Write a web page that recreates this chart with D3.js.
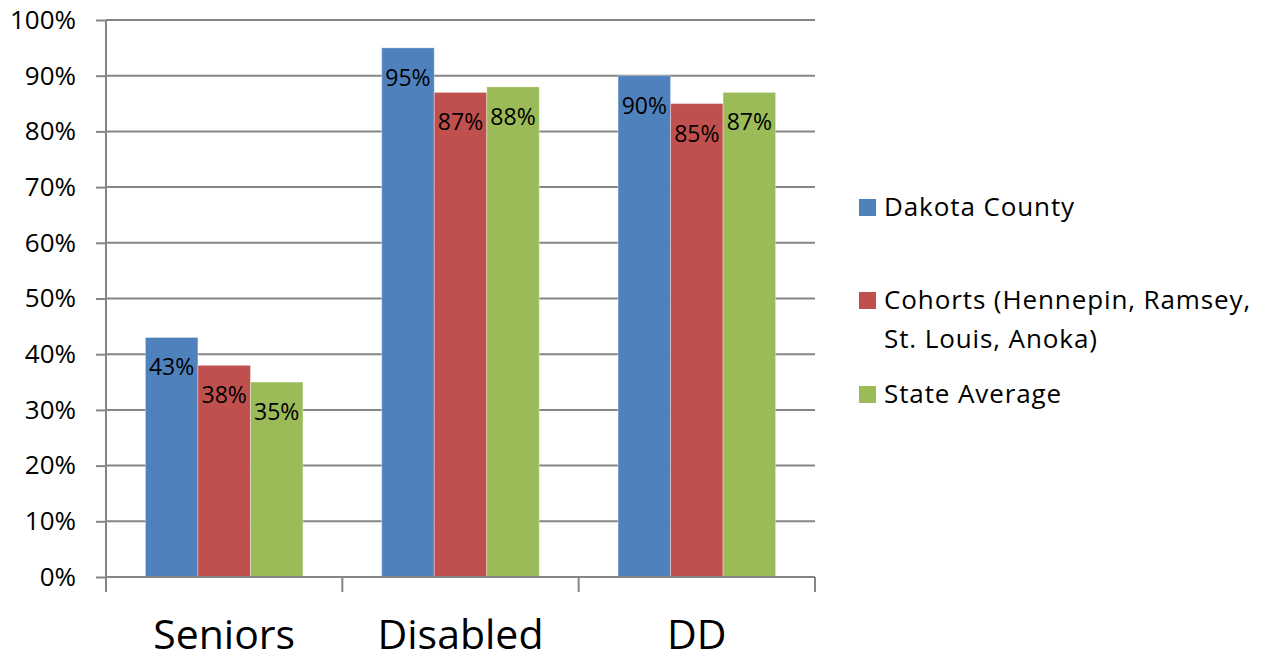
<!DOCTYPE html>
<html>
<head>
<meta charset="utf-8">
<script src="https://cdn.jsdelivr.net/npm/d3@7"></script>
<style>
  body { margin: 0; background: #fff; }
  svg { display: block; font-family: "Open Sans", Lato, sans-serif; }
</style>
</head>
<body>
<div id="chart"></div>
<script>
// chart data
const categories = ['Seniors', 'Disabled', 'DD'];
const seriesNames = ['Dakota County', 'Cohorts (Hennepin, Ramsey, St. Louis, Anoka)', 'State Average'];
const dakotaValues = [43, 95, 90];
const cohortValues = [38, 87, 85];
const stateValues = [35, 88, 87];
const yTicks = [0, 10, 20, 30, 40, 50, 60, 70, 80, 90, 100];
const legendLines = [['Dakota County'], ['Cohorts (Hennepin, Ramsey,', 'St. Louis, Anoka)'], ['State Average']];

const colors = ['#4F81BD', '#C0504D', '#9BBB59'];
const seriesValues = [dakotaValues, cohortValues, stateValues];

const width = 1267, height = 662;
const margin = { left: 106, right: 452, top: 20, bottom: 85 };
const gridColor = '#868686';
const font = '"Open Sans", Lato, sans-serif';

const svg = d3.select('#chart')
  .append('svg')
  .attr('width', width)
  .attr('height', height);

const x0 = d3.scaleBand()
  .domain(categories)
  .range([margin.left, width - margin.right])
  .padding(0);

const x1 = d3.scaleBand()
  .domain(d3.range(seriesNames.length))
  .range([0, x0.bandwidth()])
  .paddingInner(0)
  .paddingOuter(0.75);

const y = d3.scaleLinear()
  .domain([0, 100])
  .range([height - margin.bottom, margin.top]);

// gridlines + y ticks
const yAxis = svg.append('g')
  .attr('transform', `translate(${margin.left},0)`)
  .call(d3.axisLeft(y)
    .tickValues(yTicks)
    .tickSize(10)
    .tickPadding(20)
    .tickFormat(d => d + '%'));
yAxis.select('.domain').remove();
yAxis.selectAll('.tick line').attr('stroke', gridColor).attr('stroke-width', 2);
yAxis.selectAll('.tick text')
  .attr('font-size', 26)
  .attr('fill', '#000')
  .attr('font-family', font);

svg.append('g')
  .selectAll('line')
  .data(yTicks.filter(d => d > 0))
  .join('line')
  .attr('x1', margin.left)
  .attr('x2', width - margin.right)
  .attr('y1', d => y(d))
  .attr('y2', d => y(d))
  .attr('stroke', gridColor)
  .attr('stroke-width', 2);

// bars
const groups = svg.append('g')
  .selectAll('g')
  .data(categories)
  .join('g')
  .attr('transform', d => `translate(${x0(d)},0)`);

const bars = groups.selectAll('g')
  .data((c, ci) => seriesValues.map((vals, si) => ({ si, v: vals[ci] })))
  .join('g');

bars.append('rect')
  .attr('x', d => x1(d.si))
  .attr('y', d => y(d.v))
  .attr('width', x1.bandwidth())
  .attr('height', d => y(0) - y(d.v))
  .attr('fill', d => colors[d.si])
  .attr('stroke', 'rgba(255,255,255,0.35)')
  .attr('stroke-width', 1);

bars.append('text')
  .attr('x', d => x1(d.si) + x1.bandwidth() / 2)
  .attr('y', d => y(d.v) + 38)
  .attr('text-anchor', 'middle')
  .attr('font-size', 23)
  .attr('fill', '#000')
  .text(d => d.v + '%');

// x axis
const xAxis = svg.append('g')
  .attr('transform', `translate(0,${y(0)})`)
  .call(d3.axisBottom(x0).tickSize(0).tickPadding(43));
xAxis.select('.domain')
  .attr('stroke', gridColor)
  .attr('stroke-width', 2)
  .attr('d', `M${margin.left},0H${width - margin.right}`);
xAxis.selectAll('.tick text')
  .attr('font-size', 41)
  .attr('fill', '#000')
  .attr('font-family', font);

const boundaries = categories.map(c => x0(c)).concat([x0(categories[categories.length - 1]) + x0.bandwidth()]);
xAxis.append('g')
  .selectAll('line')
  .data(boundaries)
  .join('line')
  .attr('x1', d => d).attr('x2', d => d)
  .attr('y1', 0).attr('y2', 15)
  .attr('stroke', gridColor)
  .attr('stroke-width', 2);

svg.append('line')
  .attr('x1', margin.left).attr('x2', margin.left)
  .attr('y1', y(100)).attr('y2', y(0) + 15)
  .attr('stroke', gridColor)
  .attr('stroke-width', 2);

// legend
const legendTops = [199, 292, 386];
const legend = svg.append('g')
  .selectAll('g')
  .data(legendLines)
  .join('g')
  .attr('transform', (d, i) => `translate(859,${legendTops[i]})`);

legend.append('rect')
  .attr('width', 17)
  .attr('height', 17)
  .attr('fill', (d, i) => colors[i]);

legend.append('text')
  .attr('font-size', 26)
  .attr('letter-spacing', 0.9)
  .attr('fill', '#000')
  .selectAll('tspan')
  .data(d => d)
  .join('tspan')
  .attr('x', 25)
  .attr('y', (d, i) => 17 + i * 39)
  .text(d => d);
</script>
</body>
</html>
